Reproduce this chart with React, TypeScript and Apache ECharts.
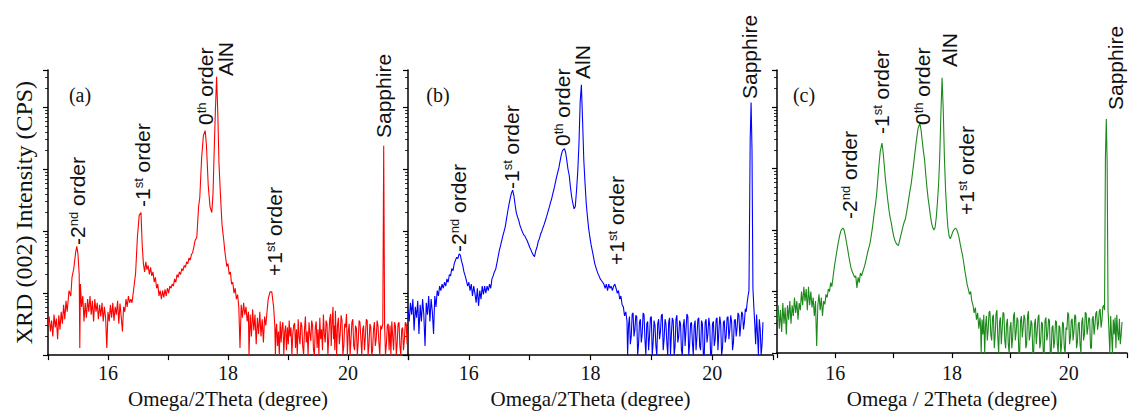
import React, { useEffect, useRef } from "react";
import * as echarts from "echarts";

// ---------- data (Omega/2Theta in degree, intensity in CPS) ----------
const panelA: [number, number][] = [
  [15.00,3.0],[15.02,4.2],[15.04,2.4],[15.06,3.6],[15.08,2.0],[15.10,4.5],[15.12,2.8],[15.14,3.9],[15.16,1.8],[15.18,4.4],
  [15.20,2.6],[15.22,5.0],[15.24,3.2],[15.26,6.5],[15.28,3.8],[15.30,7.5],[15.32,5.0],[15.35,11],[15.38,9],[15.40,18],
  [15.43,25],[15.46,45],[15.48,57],[15.50,42],[15.52,20],[15.53,1.3],[15.54,14],[15.56,6],[15.58,9],[15.60,3.5],
  [15.62,7],[15.64,4],[15.66,8],[15.68,5],[15.70,9],[15.72,4.5],[15.74,7.5],[15.76,3.5],[15.78,8],[15.80,5],
  [15.82,7],[15.84,3.8],[15.86,6.5],[15.88,4.2],[15.90,7],[15.92,3.5],[15.94,6],[15.96,4],[15.98,1.3],[16.00,5],
  [16.02,3.5],[16.04,6.5],[16.06,4],[16.08,7],[16.10,3.6],[16.12,6],[16.14,4.5],[16.16,7.5],[16.18,3.2],[16.20,6.8],
  [16.22,4.2],[16.24,2.4],[16.26,6],[16.28,5],[16.30,8],[16.32,6],[16.34,9],[16.36,7],[16.38,8],[16.40,7],
  [16.43,12],[16.46,21],[16.49,80],[16.52,180],[16.55,200],[16.57,60],[16.59,30],[16.61,22],[16.63,32],[16.65,24],
  [16.67,28],[16.69,20],[16.71,26],[16.73,19],[16.75,22],[16.77,15],[16.79,18],[16.81,12],[16.83,14],[16.85,9],
  [16.87,11],[16.89,8],[16.91,11],[16.93,8.5],[16.95,11.5],[16.97,9],[16.99,12],[17.01,10],[17.03,13],[17.05,12],
  [17.07,14],[17.09,13],[17.11,17],[17.13,15],[17.15,20],[17.17,18],[17.19,22],[17.21,20],[17.23,25],[17.25,23],
  [17.27,28],[17.29,26],[17.31,32],[17.33,30],[17.35,37],[17.37,34],[17.39,42],[17.41,45],[17.43,55],[17.45,70],
  [17.48,80],[17.51,250],[17.53,350],[17.56,1500],[17.59,3500],[17.62,4200],[17.64,2500],[17.67,560],[17.70,250],[17.73,200],
  [17.75,400],[17.77,2000],[17.79,9000],[17.81,31000],[17.83,8000],[17.85,1200],[17.88,300],[17.90,130],[17.93,70],[17.95,45],
  [17.98,27],[18.00,30],[18.02,20],[18.04,22],[18.06,14],[18.08,15],[18.10,10],[18.12,12],[18.14,8],[18.16,9.5],
  [18.18,6],[18.20,1.3],[18.22,6.5],[18.24,4],[18.26,7],[18.28,4.5],[18.30,6],[18.32,3.5],[18.34,5],[18.35,1.0],
  [18.37,4.5],[18.39,2],[18.41,5.5],[18.43,2.5],[18.45,4.5],[18.47,1.5],[18.49,4],[18.51,2.2],[18.53,5],[18.55,2],
  [18.57,3.8],[18.59,1.6],[18.61,4.2],[18.63,3],[18.65,5],[18.67,8],[18.70,10.5],[18.73,10.5],[18.76,6],[18.78,3],
  [18.79,1.0],[18.80,2.6],[18.81,3.2],[18.825,1.4],[18.84,2.4],[18.855,1.0],[18.87,3.5],[18.885,1.6],[18.90,2.8],[18.915,3.4],
  [18.93,1.0],[18.945,2.4],[18.96,3.0],[18.975,1.2],[18.99,2.8],[19.005,1.5],[19.02,3.6],[19.035,2.0],[19.05,2.8],[19.065,1.0],
  [19.08,2.2],[19.095,3.0],[19.11,3.3],[19.125,1.3],[19.14,2.6],[19.155,1.0],[19.17,3.8],[19.185,2.0],[19.20,1.5],[19.215,3.4],
  [19.23,3.0],[19.245,1.4],[19.26,1.0],[19.275,2.6],[19.29,4.2],[19.305,1.6],[19.32,2.4],[19.335,1.0],[19.35,3.4],[19.365,2.2],
  [19.38,1.7],[19.395,3.6],[19.41,3.0],[19.425,1.2],[19.44,1.0],[19.455,2.8],[19.47,3.5],[19.485,1.3],[19.50,2.6],[19.515,1.0],
  [19.53,4.0],[19.545,1.8],[19.56,2.6],[19.575,1.2],[19.59,4.5],[19.605,2.2],[19.62,1.6],[19.635,3.6],[19.65,3.2],[19.665,1.0],
  [19.68,2.0],[19.695,3.8],[19.71,4.6],[19.72,1.4],[19.73,2.5],[19.74,4.0],[19.75,6.0],[19.76,1.8],[19.77,3.0],[19.78,1.2],
  [19.79,5.2],[19.80,2.4],[19.81,1.0],[19.825,3.0],[19.84,4.0],[19.855,1.5],[19.87,2.2],[19.885,4.4],[19.90,3.6],[19.915,1.0],
  [19.93,1.4],[19.945,3.2],[19.96,2.8],[19.975,4.6],[19.99,1.0],[20.005,2.4],[20.02,3.2],[20.035,1.0],[20.05,1.8],[20.065,3.4],
  [20.08,3.8],[20.095,1.4],[20.11,1.2],[20.125,3.0],[20.14,2.7],[20.155,1.0],[20.17,1.6],[20.185,3.6],[20.20,3.4],[20.215,1.8],
  [20.23,1.0],[20.245,2.6],[20.26,3.0],[20.275,1.2],[20.29,2.0],[20.305,3.8],[20.32,3.6],[20.335,1.0],[20.35,1.5],[20.365,3.2],
  [20.38,2.8],[20.395,1.0],[20.41,1.2],[20.425,2.6],[20.44,3.4],[20.455,1.4],[20.47,1.8],[20.485,3.6],[20.50,3.0],[20.515,1.6],
  [20.53,1.0],[20.545,3.0],[20.56,2.6],[20.58,3.2],[20.595,2400],[20.61,3.0],[20.625,1.0],[20.64,1.5],[20.655,3.0],[20.67,3.2],
  [20.685,1.2],[20.70,3.0],[20.715,1.0],[20.73,3.5],[20.745,2.0],[20.76,1.2],[20.775,3.4],[20.79,3.0],[20.805,1.0],[20.82,1.6],
  [20.835,3.2],[20.85,3.4],[20.865,1.4],[20.88,1.0],[20.895,2.6],[20.91,2.8],[20.925,1.2],[20.94,1.8],[20.955,3.4],[20.97,3.2],
  [20.985,1.5],[21.00,2.2],
];

const panelB: [number, number][] = [
  [15.00,5.5],[15.02,3.5],[15.04,7],[15.06,4.5],[15.08,8],[15.10,2.5],[15.12,6],[15.14,4],[15.16,7.5],[15.18,2.2],
  [15.20,6.5],[15.22,3.5],[15.24,8],[15.26,4.5],[15.28,1.4],[15.30,7],[15.32,4.5],[15.34,9],[15.36,3.5],[15.38,8],
  [15.40,5],[15.42,2.2],[15.44,9],[15.46,6],[15.48,11],[15.50,9],[15.52,13],[15.54,11],[15.56,14],[15.58,12],
  [15.60,15],[15.62,13],[15.64,17],[15.66,15],[15.68,20],[15.70,19],[15.72,25],[15.74,23],[15.76,30],[15.78,34],
  [15.80,38],[15.82,36],[15.84,43],[15.86,41],[15.88,33],[15.90,28],[15.92,22],[15.94,19],[15.96,16],[15.98,13],
  [16.00,15],[16.02,11],[16.04,14],[16.06,9],[16.08,13],[16.10,10],[16.12,7],[16.14,12],[16.16,6.2],[16.18,11],
  [16.20,8],[16.22,13],[16.24,9.5],[16.26,13],[16.28,10],[16.30,13],[16.32,11],[16.34,14],[16.36,12],[16.38,17],
  [16.40,19],[16.42,22],[16.44,24],[16.46,30],[16.48,38],[16.50,48],[16.52,58],[16.54,70],[16.56,85],[16.58,100],
  [16.60,120],[16.62,160],[16.64,210],[16.66,270],[16.68,340],[16.70,410],[16.72,460],[16.74,380],[16.76,270],[16.78,200],
  [16.80,170],[16.82,150],[16.84,125],[16.86,110],[16.88,98],[16.90,88],[16.92,84],[16.94,76],[16.96,70],[16.98,62],
  [17.00,55],[17.02,50],[17.04,45],[17.06,41],[17.08,39],[17.10,48],[17.12,55],[17.14,68],[17.16,76],[17.18,90],
  [17.20,100],[17.22,115],[17.24,130],[17.26,150],[17.28,175],[17.30,205],[17.32,240],[17.34,285],[17.36,330],[17.38,400],
  [17.40,480],[17.42,590],[17.44,730],[17.46,880],[17.48,1050],[17.50,1350],[17.52,1700],[17.54,2000],[17.57,2150],[17.59,1900],
  [17.61,1400],[17.63,1000],[17.65,800],[17.67,520],[17.69,360],[17.71,280],[17.73,230],[17.75,250],[17.77,450],[17.79,900],
  [17.81,2500],[17.83,12000],[17.85,23000],[17.87,6000],[17.89,1400],[17.91,600],[17.93,280],[17.95,170],[17.97,110],[17.99,80],
  [18.01,60],[18.04,43],[18.07,30],[18.10,24],[18.12,21],[18.14,19],[18.16,17],[18.18,16],[18.20,15],[18.22,14],
  [18.24,12],[18.26,14],[18.28,11],[18.30,14],[18.32,12],[18.34,13],[18.36,11],[18.38,13],[18.40,14],[18.42,12],
  [18.44,10],[18.46,11],[18.48,8],[18.50,9],[18.52,6.5],[18.54,6],[18.56,4.3],[18.58,5],[18.60,3.5],[18.61,1.0],
  [18.625,3.0],[18.64,4.2],[18.655,1.5],[18.67,2.0],[18.685,4.6],[18.70,4.8],[18.715,2.0],[18.73,2.6],[18.745,4.4],[18.76,4.2],
  [18.775,1.0],[18.79,1.5],[18.805,3.4],[18.82,3.8],[18.835,1.6],[18.85,2.2],[18.865,4.8],[18.88,4.5],[18.895,1.8],[18.91,1.0],
  [18.925,3.2],[18.94,3.5],[18.955,1.2],[18.97,2.0],[18.985,4.0],[19.00,4.2],[19.015,1.0],[19.03,1.6],[19.045,3.6],[19.06,3.0],
  [19.075,1.4],[19.09,1.0],[19.105,3.2],[19.12,3.8],[19.135,1.8],[19.15,2.4],[19.165,4.4],[19.18,4.6],[19.195,1.2],[19.21,1.8],
  [19.225,3.8],[19.24,3.2],[19.255,1.6],[19.27,1.0],[19.285,3.4],[19.30,4.0],[19.315,1.0],[19.33,2.2],[19.345,4.0],[19.36,3.6],
  [19.375,1.0],[19.39,1.4],[19.405,3.8],[19.42,4.4],[19.435,1.6],[19.45,2.0],[19.465,3.6],[19.48,3.2],[19.495,1.2],[19.51,1.0],
  [19.525,3.0],[19.54,3.8],[19.555,1.4],[19.57,2.6],[19.585,4.6],[19.60,4.2],[19.615,1.0],[19.63,1.5],[19.645,3.2],[19.66,3.4],
  [19.675,1.6],[19.69,1.0],[19.705,3.0],[19.72,3.6],[19.735,1.2],[19.75,2.0],[19.765,3.8],[19.78,4.0],[19.795,1.4],[19.81,1.2],
  [19.825,3.6],[19.84,3.2],[19.855,1.0],[19.87,1.0],[19.885,3.4],[19.90,3.8],[19.915,1.6],[19.93,2.2],[19.945,4.0],[19.96,3.0],
  [19.975,1.0],[19.99,1.0],[20.005,3.2],[20.02,3.5],[20.035,1.4],[20.05,1.8],[20.065,3.8],[20.08,4.0],[20.095,1.2],[20.11,2.4],
  [20.125,4.2],[20.14,3.2],[20.155,1.0],[20.17,1.3],[20.185,3.4],[20.20,3.6],[20.215,1.6],[20.23,2.0],[20.245,4.0],[20.26,4.2],
  [20.275,1.8],[20.29,2.6],[20.305,4.4],[20.32,3.4],[20.335,1.2],[20.35,1.6],[20.365,3.6],[20.38,3.8],[20.395,2.0],[20.41,2.8],
  [20.425,4.8],[20.44,4.4],[20.455,2.0],[20.47,3.0],[20.485,5.0],[20.50,4.6],[20.515,2.6],[20.53,3.4],[20.545,5.6],[20.56,5.0],
  [20.575,7],[20.59,9],[20.605,11],[20.625,3000],[20.64,12000],[20.655,2000],[20.67,12],[20.685,6],[20.70,3.2],[20.715,1.5],
  [20.73,4.5],[20.745,2.2],[20.76,1.0],[20.775,3.8],[20.79,2.6],[20.805,1.0],[20.82,1.5],[20.835,3.4],
];

const panelC: [number, number][] = [
  [15.00,3.5],[15.02,6],[15.04,2.5],[15.06,5],[15.08,2.2],[15.10,6.5],[15.12,3],[15.14,5.5],[15.16,2],[15.18,6],
  [15.20,3.5],[15.22,7],[15.24,3],[15.26,6],[15.28,4],[15.30,8],[15.32,4.5],[15.34,7],[15.36,3.5],[15.38,6.5],
  [15.40,5],[15.42,10],[15.44,6],[15.46,12],[15.48,7],[15.50,11],[15.52,5],[15.54,12],[15.56,6],[15.58,10],
  [15.60,5.5],[15.62,8],[15.64,4],[15.66,7],[15.68,1.3],[15.70,6],[15.72,9],[15.74,5],[15.76,8],[15.78,4],
  [15.80,7],[15.82,6.2],[15.84,9],[15.86,8],[15.88,11],[15.90,10],[15.92,14],[15.94,12],[15.96,17],[15.98,24],
  [16.00,32],[16.02,42],[16.04,55],[16.06,70],[16.08,86],[16.10,100],[16.13,108],[16.15,100],[16.17,82],[16.19,64],
  [16.21,50],[16.23,38],[16.25,30],[16.27,24],[16.29,21],[16.31,19],[16.33,17],[16.35,18],[16.37,11.5],[16.39,17],
  [16.41,14],[16.43,20],[16.45,18],[16.47,21],[16.49,24],[16.51,28],[16.53,34],[16.55,42],[16.57,50],[16.59,58],
  [16.61,75],[16.63,100],[16.65,140],[16.67,200],[16.69,270],[16.71,400],[16.73,700],[16.75,1200],[16.77,1900],[16.80,2600],
  [16.82,1800],[16.84,1100],[16.86,650],[16.88,450],[16.90,300],[16.92,210],[16.94,160],[16.96,130],[16.98,100],[17.00,80],
  [17.02,68],[17.04,62],[17.06,58],[17.08,56],[17.10,66],[17.12,80],[17.14,95],[17.16,115],[17.18,135],[17.20,150],
  [17.22,190],[17.24,250],[17.26,330],[17.28,440],[17.30,560],[17.32,800],[17.34,1150],[17.36,1650],[17.38,2400],[17.40,3400],
  [17.42,4600],[17.45,5400],[17.47,4200],[17.49,2800],[17.51,1900],[17.53,1400],[17.55,800],[17.57,500],[17.59,330],[17.61,240],
  [17.63,170],[17.65,130],[17.67,110],[17.69,100],[17.71,110],[17.73,160],[17.75,280],[17.77,550],[17.79,1600],[17.81,8000],
  [17.83,30000],[17.85,9000],[17.87,1500],[17.89,450],[17.91,200],[17.93,110],[17.95,80],[17.97,72],[17.99,80],[18.01,92],
  [18.03,100],[18.06,108],[18.08,102],[18.10,90],[18.12,76],[18.14,60],[18.16,48],[18.18,39],[18.20,30],[18.22,22],
  [18.24,17],[18.26,13],[18.28,11],[18.30,9],[18.32,10],[18.34,7],[18.36,6],[18.38,4.5],[18.40,5.5],[18.42,3.5],
  [18.44,4.5],[18.46,2.5],[18.48,3.8],[18.49,2.7],[18.50,1.0],[18.515,3.5],[18.53,2.0],[18.545,4.2],[18.56,1.0],[18.575,2.8],
  [18.59,4.0],[18.605,1.6],[18.62,2.4],[18.635,4.6],[18.65,4.8],[18.665,2.0],[18.68,1.6],[18.695,3.8],[18.71,4.2],[18.725,1.2],
  [18.74,2.0],[18.755,4.4],[18.77,5.0],[18.785,1.8],[18.80,1.0],[18.815,3.2],[18.83,3.8],[18.845,1.4],[18.86,2.4],[18.875,4.6],
  [18.89,4.4],[18.905,1.6],[18.92,1.2],[18.935,3.0],[18.95,3.6],[18.965,1.4],[18.98,1.0],[18.995,2.6],[19.01,3.2],[19.025,1.2],
  [19.04,1.8],[19.055,4.0],[19.07,4.6],[19.085,1.6],[19.10,2.2],[19.115,3.8],[19.13,3.4],[19.145,1.0],[19.16,1.0],[19.175,3.4],
  [19.19,4.0],[19.205,1.8],[19.22,2.6],[19.235,4.2],[19.25,3.6],[19.265,1.2],[19.28,1.4],[19.295,4.0],[19.31,4.8],[19.325,1.6],
  [19.34,2.0],[19.355,3.4],[19.37,3.0],[19.385,1.0],[19.40,1.0],[19.415,3.0],[19.43,3.6],[19.445,1.4],[19.46,2.2],[19.475,3.8],
  [19.49,4.2],[19.505,1.2],[19.52,1.5],[19.535,3.2],[19.55,3.0],[19.565,1.0],[19.58,1.0],[19.595,3.4],[19.61,3.8],[19.625,1.6],
  [19.64,2.0],[19.655,3.6],[19.67,3.4],[19.685,1.0],[19.70,1.0],[19.715,2.6],[19.73,2.8],[19.745,1.2],[19.76,1.6],[19.775,3.4],
  [19.79,3.2],[19.805,1.4],[19.82,1.0],[19.835,2.8],[19.85,2.6],[19.865,1.0],[19.88,1.4],[19.895,3.2],[19.91,3.0],[19.925,1.2],
  [19.94,1.0],[19.955,2.6],[19.97,2.4],[19.985,4.6],[20.00,4.2],[20.015,1.4],[20.03,1.8],[20.045,3.4],[20.06,3.6],[20.075,1.6],
  [20.09,2.2],[20.105,4.2],[20.12,4.0],[20.135,1.2],[20.15,1.5],[20.165,3.0],[20.18,3.2],[20.195,1.4],[20.21,1.0],[20.225,3.2],
  [20.24,3.8],[20.255,1.6],[20.27,2.0],[20.285,4.6],[20.30,4.4],[20.315,2.0],[20.33,2.6],[20.345,3.8],[20.36,3.6],[20.375,1.2],
  [20.39,1.2],[20.405,3.6],[20.42,4.0],[20.435,2.0],[20.45,2.8],[20.465,4.4],[20.48,4.8],[20.495,2.4],[20.51,3.0],[20.525,4.8],
  [20.54,5.2],[20.555,2.6],[20.57,3.4],[20.585,5.6],[20.60,6],[20.615,5],[20.63,1500],[20.645,6400],[20.66,1200],[20.675,5],
  [20.69,2.4],[20.705,1.0],[20.72,4.0],[20.735,2.0],[20.75,1.0],[20.765,3.5],[20.78,2.0],[20.795,3.8],[20.81,1.2],[20.825,4.2],
  [20.84,2.2],[20.855,1.6],[20.87,3.6],[20.885,1.4],[20.90,2.0],[20.915,3.2],
];

const seriesColors = ["#ff0000", "#0000ff", "#1b8a1b"];
const panelTags = ["(a)", "(b)", "(c)"];
const xTitles = ["Omega/2Theta (degree)", "Omega/2Theta (degree)", "Omega / 2Theta (degree)"];
const yTitle = "XRD (002) Intensity (CPS)";
const xTickLabels = [16, 18, 20];
const peakLabels = ["-2{s|nd} order", "-1{s|st} order", "0{s|th} order", "AlN", "+1{s|st} order", "Sapphire"];

// ---------- layout (pixels) ----------
const grids = [
  { left: 48, top: 70, width: 360, height: 290 },
  { left: 408, top: 70, width: 365, height: 290 },
  { left: 777, top: 70, width: 360, height: 290 },
];
// anchor (bottom-centre of each rotated label), per panel, per peak label
const labelAnchors = [
  [[77, 245], [142, 207], [205, 125], [225, 76], [274, 276], [383, 138]],
  [[458, 252], [511, 189], [562, 146], [582, 79], [616, 265], [749, 99]],
  [[849, 219], [881, 134], [922, 125], [949, 67], [966, 215], [1115, 110]],
];
const tagPos = [[80, 95], [438, 95], [804, 95]];
const xNameGap = [30, 30, 33];
const xLabelMargin = [8, 8, 10];

const SANS = "'Liberation Sans', Arial, sans-serif";
const SERIF = "'Liberation Serif', 'Times New Roman', serif";

export default function App() {
  const ref = useRef<HTMLDivElement>(null);
  useEffect(() => {
    if (!ref.current) return;
    const chart = echarts.init(ref.current, null, { renderer: "svg" });
    const datasets = [panelA, panelB, panelC];

    const graphics: any[] = [];
    labelAnchors.forEach((panel, p) => {
      panel.forEach((pos, k) => {
        graphics.push({
          type: "text",
          x: pos[0],
          y: pos[1],
          rotation: Math.PI / 2,
          z: 100,
          style: {
            text: peakLabels[k],
            fill: "#111",
            font: `21px ${SANS}`,
            textAlign: "left",
            textVerticalAlign: "middle",
            rich: {
              s: { fontSize: 13, fontFamily: SANS, verticalAlign: "top", fill: "#111" },
            },
          },
        });
      });
      graphics.push({
        type: "text",
        x: tagPos[p][0],
        y: tagPos[p][1],
        z: 100,
        style: {
          text: panelTags[p],
          fill: "#111",
          font: `20px ${SERIF}`,
          textAlign: "center",
          textVerticalAlign: "middle",
        },
      });
    });

    const option: any = {
      animation: false,
      backgroundColor: "#ffffff",
      grid: grids.map((g) => ({ ...g, containLabel: false })),
      xAxis: grids.map((_, i) => ({
        type: "value",
        gridIndex: i,
        min: 15,
        max: 21,
        interval: 1,
        axisLine: { show: true, onZero: false, lineStyle: { color: "#000", width: 1.5 } },
        axisTick: { show: true, inside: false, length: 5, lineStyle: { color: "#000", width: 1.2 } },
        axisLabel: {
          formatter: (v: number) => (xTickLabels.includes(v) ? String(v) : ""),
          color: "#111",
          fontFamily: SERIF,
          fontSize: 20,
          margin: xLabelMargin[i],
          showMinLabel: true,
          showMaxLabel: true,
        },
        splitLine: { show: false },
        name: xTitles[i],
        nameLocation: "middle",
        nameGap: xNameGap[i],
        nameTextStyle: { fontFamily: SERIF, fontSize: 21, color: "#111" },
      })),
      yAxis: grids.map((_, i) => ({
        type: "log",
        logBase: 10,
        gridIndex: i,
        min: 1,
        max: 40000,
        axisLine: { show: true, lineStyle: { color: "#000", width: 1.5 } },
        axisTick: { show: true, inside: false, length: 5, lineStyle: { color: "#000", width: 1.2 } },
        minorTick: { show: true, splitNumber: 9, length: 3, lineStyle: { color: "#000", width: 0.8 } },
        axisLabel: { show: false },
        splitLine: { show: false },
        minorSplitLine: { show: false },
        name: i === 0 ? yTitle : "",
        nameLocation: "middle",
        nameGap: 12,
        nameTextStyle: { fontFamily: SERIF, fontSize: 24, color: "#111" },
      })),
      series: datasets.map((d, i) => ({
        type: "line",
        xAxisIndex: i,
        yAxisIndex: i,
        data: d,
        symbol: "none",
        showSymbol: false,
        clip: true,
        z: 2,
        lineStyle: { color: seriesColors[i], width: 1.1 },
        itemStyle: { color: seriesColors[i] },
      })),
      graphic: graphics,
    };
    chart.setOption(option);
    return () => chart.dispose();
  }, []);
  return (
    <div
      ref={ref}
      style={{ position: "fixed", left: 0, top: 0, width: 1130, height: 414, background: "#fff" }}
    />
  );
}
